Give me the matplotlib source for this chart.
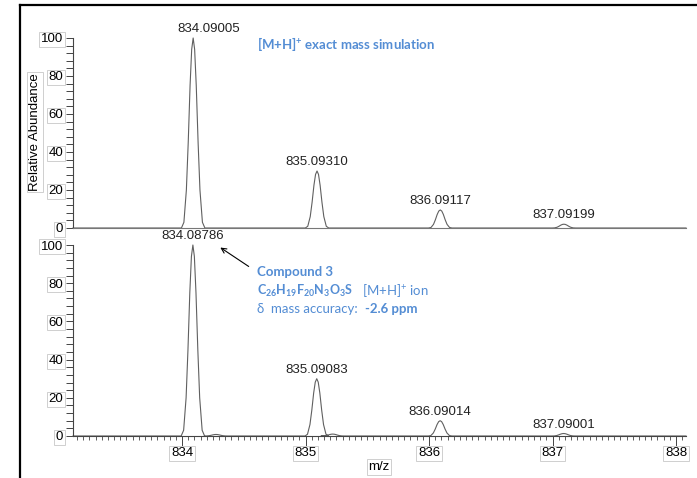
import numpy as np
import matplotlib
matplotlib.use("Agg")
from matplotlib import pyplot as plt
from matplotlib.lines import Line2D
from matplotlib.ticker import MultipleLocator, FixedLocator

plt.rcParams['font.family'] = ['Liberation Sans', 'DejaVu Sans']
plt.rcParams['mathtext.fontset'] = 'custom'
plt.rcParams['mathtext.rm'] = 'Lato'
plt.rcParams['mathtext.bf'] = 'Lato:bold'

# simulated [M+H]+ isotope pattern
sim_mz = [834.09005, 835.09310, 836.09117, 837.09199]
sim_int = [100, 30, 9.5, 2]

# measured spectrum
obs_mz = [834.08786, 835.09083, 836.09014, 837.09001]
obs_int = [100, 30, 8, 1.3]
# small unlabelled bumps in the measured trace
noise_mz = [834.275, 835.22]
noise_int = [0.8, 1.0]

# peak profile (offset in m/z, fraction of apex)
prof_dx = [-0.095, -0.075, -0.055, -0.04, -0.025, -0.012, 0, 0.012, 0.025, 0.04, 0.055, 0.075, 0.095]
prof_y = [0, 0.03, 0.2, 0.45, 0.75, 0.94, 1, 0.94, 0.75, 0.45, 0.2, 0.03, 0]

xmin, xmax = 833.117, 838.081
blue = '#548DD4'
grey_line = '#606060'
box = dict(boxstyle='square,pad=0.12', fc='white', ec='#c8c8c8', lw=0.6)

W, H = 697, 478


def trace(mzs, ints):
    xs, ys = [xmin], [0]
    for m, h in sorted(zip(mzs, ints)):
        xs += [m + d for d in prof_dx]
        ys += [h * p for p in prof_y]
    xs.append(xmax)
    ys.append(0)
    return xs, ys


def px(x, y):
    return x / W, 1 - y / H


fig = plt.figure(figsize=(6.97, 4.78), dpi=100)

ax1 = fig.add_axes([73 / W, 1 - 228 / H, 613 / W, 218.5 / H])
ax2 = fig.add_axes([73 / W, 1 - 436 / H, 613 / W, 191 / H])

for ax, mzs, ints, ytop in [(ax1, sim_mz, sim_int, 115),
                            (ax2, obs_mz + noise_mz, obs_int + noise_int, 100)]:
    xs, ys = trace(mzs, ints)
    ax.plot(xs, ys, color=grey_line, lw=0.8, clip_on=False)
    ax.set_xlim(xmin, xmax)
    ax.set_ylim(0, ytop)
    for s in ['top', 'right']:
        ax.spines[s].set_visible(False)
    ax.spines['left'].set_bounds(0, 100)
    ax.spines['left'].set_color('#444444')
    ax.spines['left'].set_linewidth(0.8)
    ax.spines['bottom'].set_linewidth(0.8)
    ax.set_yticks([0, 20, 40, 60, 80, 100])
    ax.yaxis.set_minor_locator(FixedLocator(list(range(0, 101, 4))))
    ax.tick_params(axis='y', which='both', direction='out', length=5,
                   width=0.7, color='#444444', labelsize=9.5, pad=2)
    for lbl in ax.get_yticklabels():
        lbl.set_bbox(box)
    ax.patch.set_alpha(0)

ax1.spines['bottom'].set_color('#777777')
ax1.set_xticks([])

ax2.spines['bottom'].set_color('#444444')
ax2.set_xticks([834, 835, 836, 837, 838])
ax2.xaxis.set_minor_locator(MultipleLocator(0.05))
ax2.tick_params(axis='x', which='major', direction='out', length=7,
                width=0.7, color='#444444', labelsize=9.5, pad=1)
ax2.tick_params(axis='x', which='minor', direction='out', length=3,
                width=0.6, color='#444444')
for lbl in ax2.get_xticklabels():
    lbl.set_bbox(box)

# peak labels
for i, (m, h) in enumerate(zip(sim_mz, sim_int)):
    dx = 16 if i == 0 else 0
    ax1.annotate(f"{m:.5f}", (m, h), xytext=(dx, 3), textcoords='offset pixels',
                 ha='center', va='bottom', fontsize=9.5, color='#222222')
for m, h in zip(obs_mz, obs_int):
    ax2.annotate(f"{m:.5f}", (m, h), xytext=(0, 3), textcoords='offset pixels',
                 ha='center', va='bottom', fontsize=9.5, color='#222222')

# arrow pointing to the measured monoisotopic label
fig.add_artist(matplotlib.patches.FancyArrowPatch(
    px(251, 268), px(218, 246), arrowstyle='->', mutation_scale=9,
    color='black', lw=0.8, transform=fig.transFigure))

# axis titles
fig.text(*px(35, 132), 'Relative Abundance', rotation=90, ha='center',
         va='center', fontsize=9.5, bbox=box)
fig.text(*px(379, 467), 'm/z', ha='center', va='center', fontsize=9.5, bbox=box)

# blue annotations
bkw = dict(color=blue, family=['Lato', 'DejaVu Sans'], fontsize=9.5, va='center')
fig.text(*px(257, 44), r'[M+H]$^{\mathbf{+}}$ exact mass simulation', weight='bold', **bkw)
fig.text(*px(257, 272), 'Compound 3', weight='bold', **bkw)
fig.text(*px(257, 291), r'$\mathbf{C_{26}H_{19}F_{20}N_3O_3S}$',
         **{**bkw, 'fontsize': 9})
fig.text(*px(362, 291), r'[M+H]$^{+}$ ion', **bkw)
fig.text(*px(257, 309), 'δ  mass accuracy:', **bkw)
fig.text(*px(365, 309), '-2.6 ppm', weight='bold', **bkw)

# frame lines at top and left
fig.add_artist(Line2D([20 / W, 1], [1 - 5 / H, 1 - 5 / H], color='black', lw=1.6))
fig.add_artist(Line2D([20 / W, 20 / W], [0, 1 - 5 / H], color='black', lw=1.6))

fig.savefig('out.png', dpi=100)
